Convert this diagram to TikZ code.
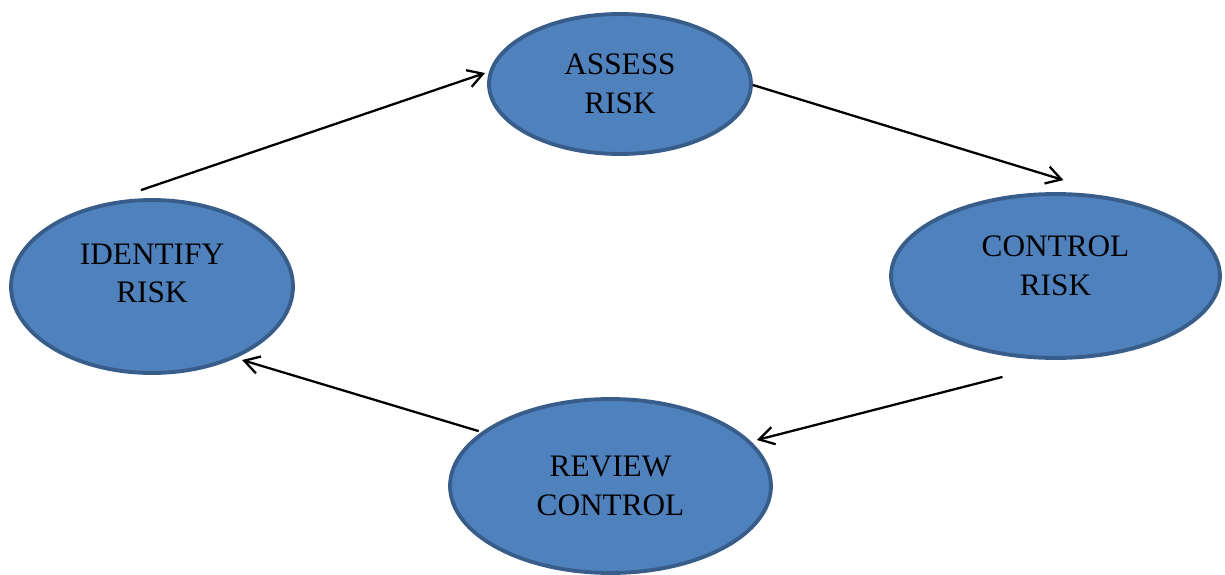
\documentclass[tikz,border=0pt]{standalone}
\usepackage{fontspec}
\setmainfont{Liberation Serif}
\usepackage{tikz}
\usetikzlibrary{shapes.geometric, arrows.meta, positioning, calc}
\definecolor{stageblue}{RGB}{79, 129, 189}
\definecolor{stageedge}{RGB}{56, 93, 138}
\tikzset{
  riskellipse/.style={ellipse, draw=stageedge, fill=stageblue, line width=2.2pt, align=center, inner sep=0pt, font=\fontsize{17.8}{22}\selectfont},
  risktext/.style={align=center, font=\fontsize{17.8}{22}\selectfont},
  flow/.style={-{Straight Barb[length=8.5pt, width=10pt]}, line width=1.3pt, black}
}

\begin{document}
\begin{tikzpicture}[x=0.02cm, y=-0.02cm]
  \useasboundingbox (0,0) rectangle (1225,575);

  % Stages of the cycle
  \node[riskellipse, minimum width=5.24cm, minimum height=2.8cm] (assess) at (620, 84) {ASSESS\\RISK};
  \node[riskellipse, minimum width=6.58cm, minimum height=3.28cm,
        label={[risktext, yshift=0.2cm]center:CONTROL\\RISK}] (control) at (1055.5, 276) {};
  \node[riskellipse, minimum width=6.42cm, minimum height=3.48cm] (review) at (610.5, 486) {REVIEW\\CONTROL};
  \node[riskellipse, minimum width=5.64cm, minimum height=3.46cm,
        label={[risktext, yshift=0.26cm]center:IDENTIFY\\RISK}] (identify) at (152, 286.5) {};

  % Cycle arrows
  \draw[flow] ([shift={(-11,-8)}]identify.north) -- ([shift={(-2,-11)}]assess.west);
  \draw[flow] ([shift={(0,1)}]assess.east) -- ([shift={(8,-12)}]control.north);
  \draw[flow] ([shift={(-53,17)}]control.south) -- ([shift={(-16,-46)}]review.east);
  \draw[flow] ([shift={(-17,8)}]review.north west) -- ([shift={(-11,11)}]identify.south east);
\end{tikzpicture}
\end{document}
